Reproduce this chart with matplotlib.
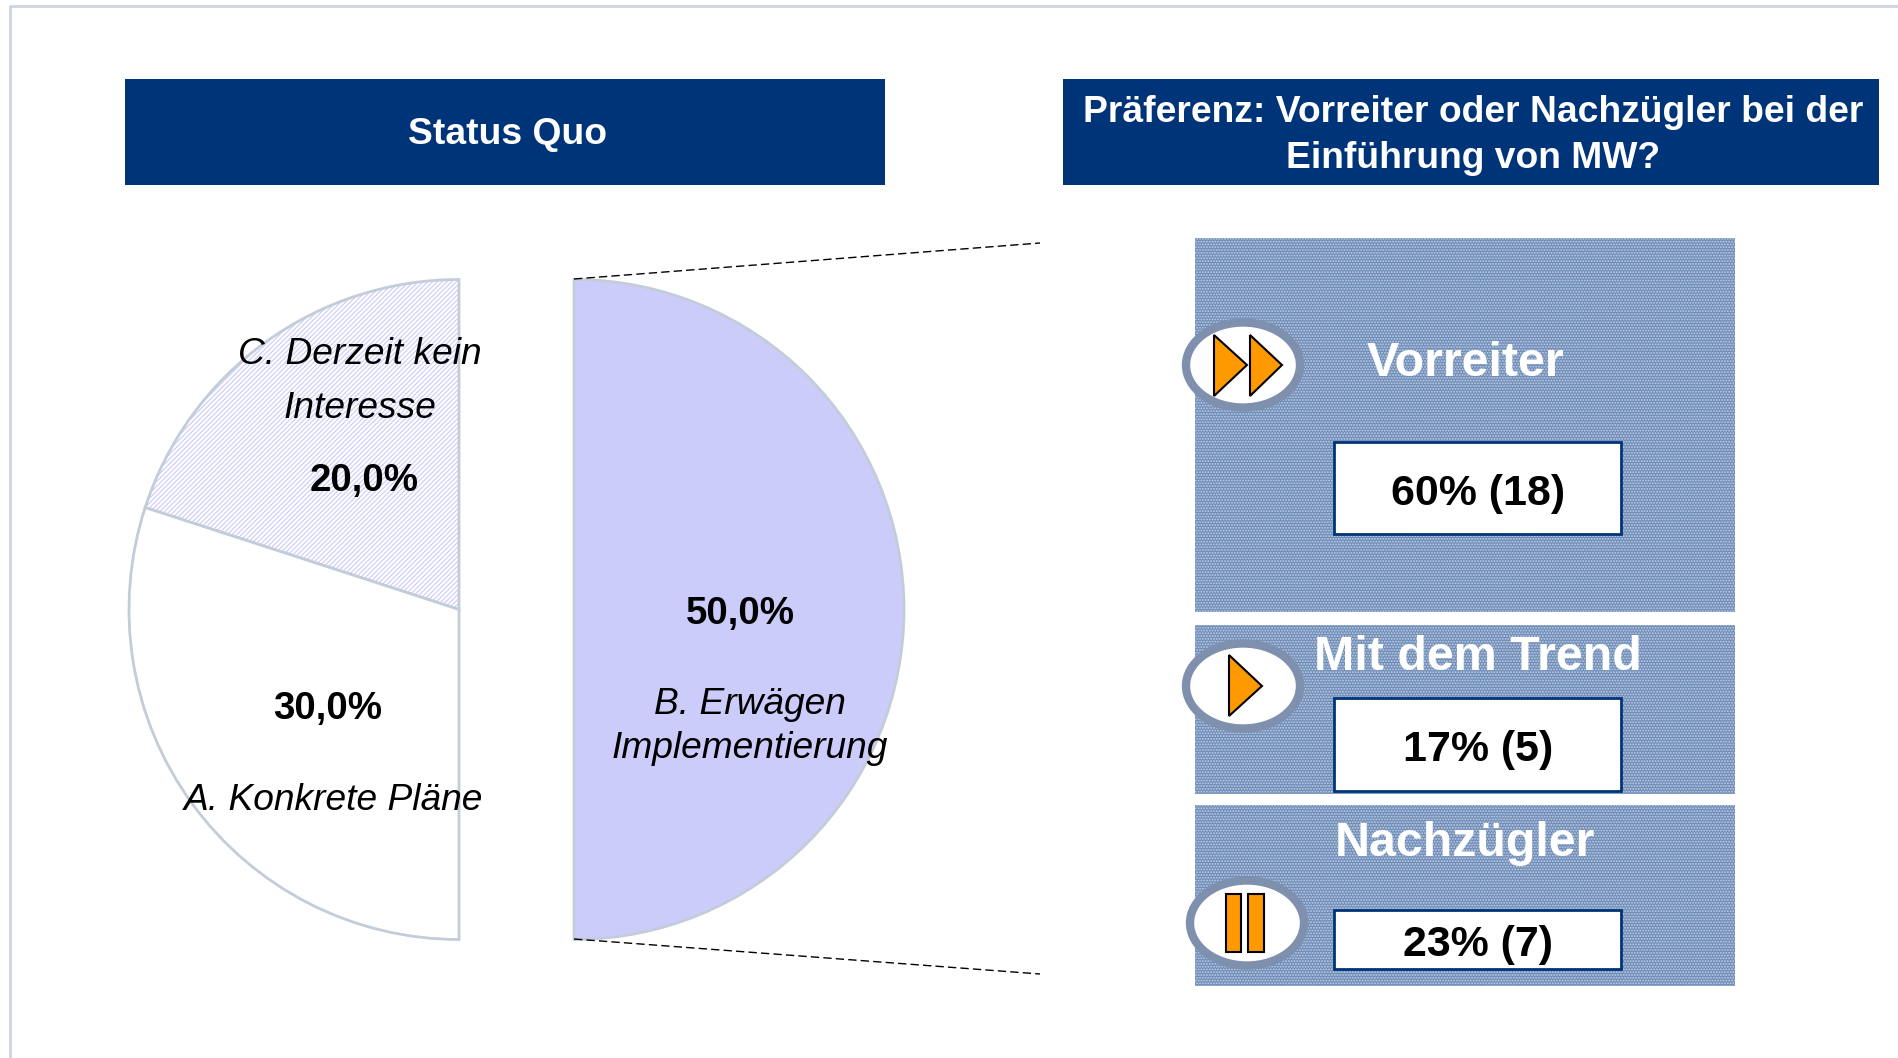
import matplotlib
matplotlib.use("Agg")
import matplotlib.pyplot as plt
from matplotlib.patches import Wedge, Rectangle, Ellipse, Polygon

W, H = 1899, 1058

# pie values
pie_left_labels = ["C. Derzeit kein\nInteresse", "A. Konkrete Pläne"]
pie_left_values = [20.0, 30.0]
pie_right_label = "B. Erwägen\nImplementierung"
pie_right_value = 50.0

# preference panels
pref_names = ["Vorreiter", "Mit dem Trend", "Nachzügler"]
pref_percent = [60, 17, 23]
pref_counts = [18, 5, 7]

NAVY = "#003479"
EDGE = "#C3CCD9"
LILAC = "#CCCCFB"
ORANGE = "#FF9900"
RING = "#7E90AE"

plt.rcParams['font.family'] = ['Liberation Sans', 'DejaVu Sans']
plt.rcParams['hatch.linewidth'] = 0.9


def Y(py):
	# picture pixels count from the top
	return H - py


def T(py):
	# text sits a little low compared with matplotlib's center
	return H - py - 3


fig = plt.figure(figsize=(W / 100, H / 100), dpi=100)
ax = fig.add_axes([0, 0, 1, 1])
ax.set_xlim(0, W)
ax.set_ylim(0, H)
ax.axis("off")

# page frame
ax.plot([10, 10, W], [0, Y(6), Y(6)], color="#CDD5E0", linewidth=2)

# headers
ax.add_patch(Rectangle((125, Y(185)), 760, 106, facecolor=NAVY, edgecolor="none"))
ax.add_patch(Rectangle((1063, Y(185)), 816, 106, facecolor=NAVY, edgecolor="none"))
ax.text(508, T(132), "Status Quo", color="white", fontsize=26.8, fontweight="bold", ha="center", va="center")
ax.text(1473, T(110), "Präferenz: Vorreiter oder Nachzügler bei der", color="white", fontsize=26.8,
		fontweight="bold", ha="center", va="center")
ax.text(1473, T(155), "Einführung von MW?", color="white", fontsize=26.8, fontweight="bold",
		ha="center", va="center")

# split pie, angles come from the values
radius = 330
total = sum(pie_left_values) + pie_right_value
left_c = (459, Y(609.5))
right_c = (574, Y(609.5))

c_end = 90 + 360 * pie_left_values[0] / total
a_end = c_end + 360 * pie_left_values[1] / total
ax.add_patch(Wedge(left_c, radius, 90, c_end, facecolor="white", edgecolor="#CFCFFA", hatch="///////", linewidth=0))
ax.add_patch(Wedge(left_c, radius, 90, c_end, facecolor="none", edgecolor=EDGE, linewidth=2))
ax.add_patch(Wedge(left_c, radius, c_end, a_end, facecolor="white", edgecolor=EDGE, linewidth=2))
half = 360 * pie_right_value / total
ax.add_patch(Wedge(right_c, radius, 90 - half, 90, facecolor=LILAC, edgecolor=EDGE, linewidth=2))

# pull-out lines
ax.plot([574, 1040], [Y(279), Y(243)], color="black", linewidth=1, linestyle=(0, (6, 3)))
ax.plot([574, 1040], [Y(939), Y(974)], color="black", linewidth=1, linestyle=(0, (6, 3)))

# pie texts
lab_c = pie_left_labels[0].split("\n")
ax.text(360, T(351), lab_c[0], fontsize=26.7, style="italic", ha="center", va="center")
ax.text(360, T(405), lab_c[1], fontsize=26.7, style="italic", ha="center", va="center")
ax.text(364, T(478), f"{pie_left_values[0]:.1f}%".replace(".", ","), fontsize=27.7, fontweight="bold", ha="center", va="center")
ax.text(328, T(706), f"{pie_left_values[1]:.1f}%".replace(".", ","), fontsize=27.7, fontweight="bold", ha="center", va="center")
ax.text(334, T(798), pie_left_labels[1], fontsize=26.7, style="italic", ha="center", va="center")
ax.text(740, T(611), f"{pie_right_value:.1f}%".replace(".", ","), fontsize=27.7, fontweight="bold", ha="center", va="center")
lab_b = pie_right_label.split("\n")
ax.text(750, T(702), lab_b[0], fontsize=26.7, style="italic", ha="center", va="center")
ax.text(750, T(746), lab_b[1], fontsize=26.7, style="italic", ha="center", va="center")

# right panels: (top, bottom) of panel, of white box, title pos, ellipse pos
panel_y = [(238, 612), (625, 794), (805, 986)]
box_y = [(442, 534), (698, 791), (910, 969)]
title_xy = [(1465, 361), (1478, 655), (1465, 840)]
ellipse_xy = [(1243, 365), (1243, 686), (1247, 923)]

for i in range(3):
	top, bot = panel_y[i]
	ax.add_patch(Rectangle((1195, Y(bot)), 540, bot - top, facecolor="#6F8DB9", edgecolor="#C2CFE2",
						   hatch="......", linewidth=0))
	ax.text(title_xy[i][0], T(title_xy[i][1]), pref_names[i], color="white", fontsize=34.8, fontweight="bold",
			ha="center", va="center")
	top, bot = box_y[i]
	ax.add_patch(Rectangle((1334, Y(bot)), 287, bot - top, facecolor="white", edgecolor=NAVY, linewidth=2))
	ax.text(1478, T((top + bot) / 2 + 2.5), f"{pref_percent[i]}% ({pref_counts[i]})", fontsize=30.9, fontweight="bold",
			ha="center", va="center")
	ex, ey = ellipse_xy[i]
	ax.add_patch(Ellipse((ex, Y(ey)), 114, 85, facecolor="white", edgecolor=RING, linewidth=6))

# icons
for x0, x1 in [(1214, 1247), (1250, 1282)]:
	ax.add_patch(Polygon([(x0, Y(335)), (x1, Y(365)), (x0, Y(396))], closed=True, facecolor=ORANGE,
						 edgecolor="black", linewidth=1.5))
ax.add_patch(Polygon([(1229, Y(655)), (1262, Y(686)), (1229, Y(716))], closed=True, facecolor=ORANGE,
					 edgecolor="black", linewidth=1.5))
for x0, x1 in [(1226, 1241), (1248, 1264)]:
	ax.add_patch(Rectangle((x0, Y(952)), x1 - x0, 58, facecolor=ORANGE, edgecolor="black", linewidth=1.5))

fig.savefig("out.png", dpi=100)
